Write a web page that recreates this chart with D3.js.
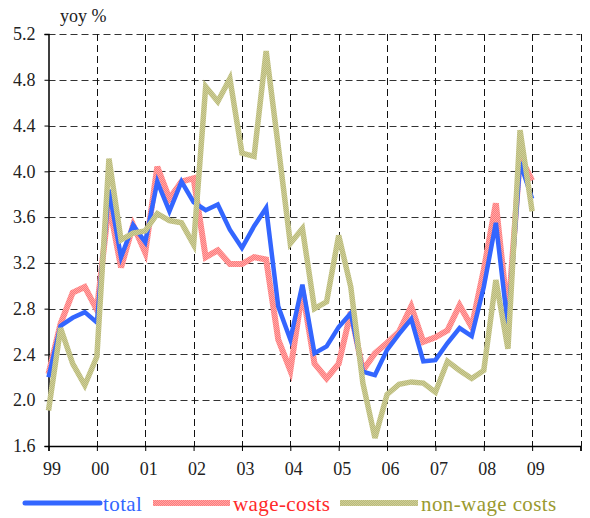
<!DOCTYPE html>
<html>
<head>
<meta charset="utf-8">
<script src="https://cdn.jsdelivr.net/npm/d3@7"></script>
<style>
  body { margin: 0; background: #fff; }
  svg { font-family: "Liberation Serif", "DejaVu Serif", serif; }
</style>
</head>
<body>
<svg width="590" height="518"></svg>
<script>
"use strict";

// quarterly, 1999 Q1 .. 2009 Q1
const quarters = d3.range(41).map(i => 1999 + i / 4);
const total = [2.20, 2.65, 2.72, 2.77, 2.68, 3.84, 3.25, 3.53, 3.38, 3.91, 3.65, 3.91, 3.73, 3.66, 3.71, 3.49,
    3.33, 3.52, 3.68, 2.82, 2.53, 3.01, 2.41, 2.47, 2.64, 2.76, 2.25, 2.22, 2.44, 2.58, 2.71, 2.34,
    2.35, 2.50, 2.63, 2.56, 2.99, 3.55, 2.64, 4.08, 3.76];
const wageCosts = [2.23, 2.67, 2.94, 2.99, 2.79, 3.72, 3.16, 3.53, 3.29, 4.04, 3.76, 3.91, 3.94, 3.25, 3.31, 3.19,
    3.19, 3.25, 3.23, 2.53, 2.26, 2.96, 2.32, 2.19, 2.32, 2.77, 2.26, 2.41, 2.50, 2.60, 2.82, 2.51,
    2.55, 2.61, 2.83, 2.64, 3.14, 3.72, 2.73, 4.13, 3.92];
const nonWageCosts = [1.91, 2.63, 2.32, 2.13, 2.38, 4.11, 3.40, 3.46, 3.48, 3.63, 3.57, 3.55, 3.36, 4.74, 4.61, 4.81,
    4.16, 4.13, 5.05, 4.22, 3.37, 3.50, 2.80, 2.86, 3.44, 2.99, 2.15, 1.67, 2.05, 2.14, 2.16, 2.15,
    2.07, 2.34, 2.26, 2.19, 2.26, 3.05, 2.45, 4.36, 3.65];
const yTicks = [1.6, 2.0, 2.4, 2.8, 3.2, 3.6, 4.0, 4.4, 4.8, 5.2];
const xTicks = d3.range(1999, 2011);
const xLabels = ["99", "00", "01", "02", "03", "04", "05", "06", "07", "08", "09"];

const svg = d3.select("svg");
const plotL = 48.5, plotR = 580.5, plotT = 34, plotB = 446;

const x = d3.scaleLinear().domain([1999, 2010]).range([plotL, plotR]);
const y = d3.scaleLinear().domain([1.6, 5.2]).range([plotB, plotT]);

// patterns for the textured lines
const defs = svg.append("defs");
function texture(id, c1, c2) {
    const p = defs.append("pattern").attr("id", id)
        .attr("patternUnits", "userSpaceOnUse").attr("width", 2).attr("height", 2);
    p.append("rect").attr("width", 2).attr("height", 2).attr("fill", c1);
    p.append("rect").attr("width", 1).attr("height", 1).attr("fill", c2);
    p.append("rect").attr("x", 1).attr("y", 1).attr("width", 1).attr("height", 1).attr("fill", c2);
}
texture("redTex", "#ff7a7a", "#ffa8a8");
texture("oliveTex", "#b9b97a", "#cfcf98");

// grid
svg.append("g").selectAll("line")
    .data(yTicks.slice(1))
    .enter().append("line")
    .attr("x1", plotL).attr("x2", plotR)
    .attr("y1", d => Math.round(y(d)) + 0.5).attr("y2", d => Math.round(y(d)) + 0.5)
    .attr("stroke", "#333").attr("stroke-dasharray", "7,4");

svg.append("g").selectAll("line")
    .data(xTicks.slice(1))
    .enter().append("line")
    .attr("x1", d => Math.round(x(d)) + 0.5).attr("x2", d => Math.round(x(d)) + 0.5)
    .attr("y1", plotT).attr("y2", plotB)
    .attr("stroke", "#111").attr("stroke-dasharray", "7,4");

// axes
const yAxis = svg.append("g")
    .attr("transform", `translate(${plotL},0)`)
    .call(d3.axisLeft(y).tickValues(yTicks).tickFormat(d3.format(".1f")).tickSize(4).tickPadding(9));
const xAxis = svg.append("g")
    .attr("transform", `translate(0,${plotB})`)
    .call(d3.axisBottom(x).tickValues(xTicks).tickFormat((d, i) => xLabels[i] || "").tickSize(5).tickPadding(11));

[yAxis, xAxis].forEach(a => {
    a.select(".domain").attr("stroke", "#000").attr("stroke-width", 1.5);
    a.selectAll(".tick line").attr("stroke", "#000");
    a.selectAll("text").attr("font-family", "Liberation Serif, serif").attr("font-size", 18).attr("fill", "#222");
});
xAxis.selectAll("text").attr("dx", 3);

svg.append("text")
    .attr("x", 60).attr("y", 22)
    .attr("font-size", 18).attr("fill", "#222")
    .text("yoy %");

// lines
const line = d3.line().x((d, i) => x(quarters[i])).y(d => y(d));
svg.append("path").datum(wageCosts)
    .attr("d", line).attr("fill", "none")
    .attr("stroke", "url(#redTex)").attr("stroke-width", 6).attr("stroke-linejoin", "miter");
svg.append("path").datum(total)
    .attr("d", line).attr("fill", "none")
    .attr("stroke", "#3366ff").attr("stroke-width", 4.5);
svg.append("path").datum(nonWageCosts)
    .attr("d", line).attr("fill", "none")
    .attr("stroke", "url(#oliveTex)").attr("stroke-width", 5.5);

// legend
const legend = [
    { name: "total", stroke: "#3366ff", text: "#3366ff", x1: 25, x2: 100, w: 5 },
    { name: "wage-costs", stroke: "url(#redTex)", text: "#ff2a2a", x1: 153, x2: 230, w: 6 },
    { name: "non-wage costs", stroke: "url(#oliveTex)", text: "#9a9a30", x1: 340, x2: 418, w: 6 }
];
const lg = svg.append("g").selectAll("g").data(legend).enter().append("g");
lg.append("line")
    .attr("x1", d => d.x1).attr("x2", d => d.x2)
    .attr("y1", 503).attr("y2", 503)
    .attr("stroke", d => d.stroke).attr("stroke-width", d => d.w)
    .attr("stroke-linecap", (d, i) => i === 0 ? "round" : "butt");
lg.append("text")
    .attr("x", d => d.x2 + 3).attr("y", 511)
    .attr("font-size", 21).attr("letter-spacing", 0.4).attr("fill", d => d.text)
    .text(d => d.name);
</script>
</body>
</html>
